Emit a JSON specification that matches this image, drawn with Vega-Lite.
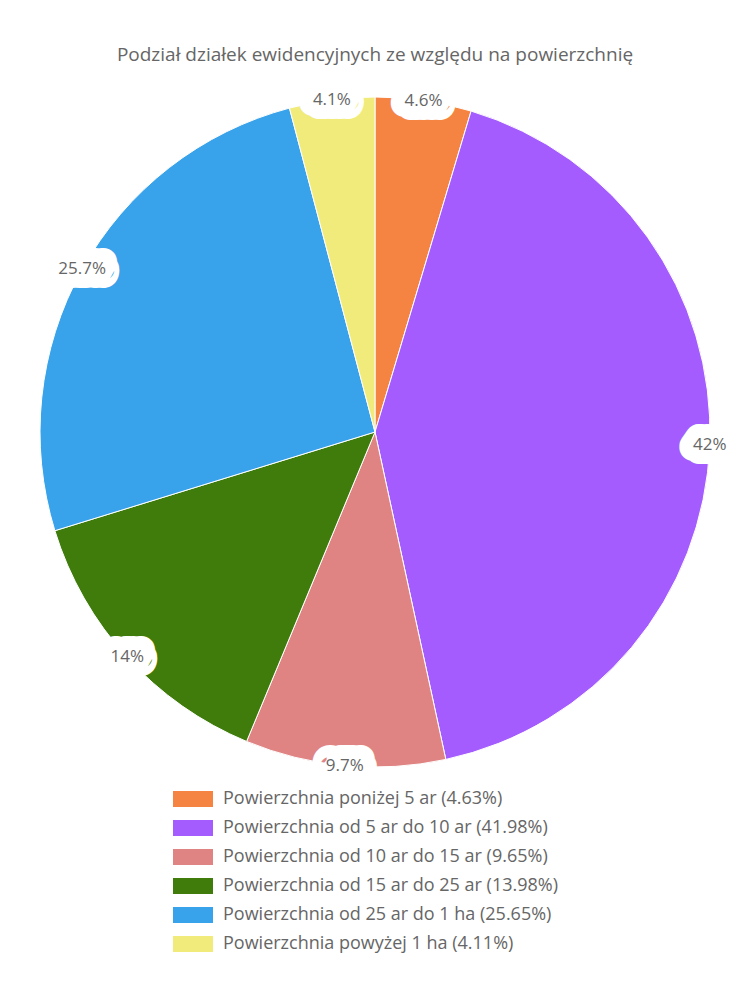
{
  "$schema": "https://vega.github.io/schema/vega-lite/v6.json",
  "autosize": {"type": "none"},
  "width": 670,
  "height": 670,
  "padding": {"top": 97, "bottom": 233, "left": 40, "right": 40},
  "background": "white",
  "title": {
    "text": "Podział działek ewidencyjnych ze względu na powierzchnię",
    "font": "Open Sans",
    "fontSize": 19,
    "fontWeight": "normal",
    "color": "#666666",
    "anchor": "middle",
    "frame": "group",
    "offset": 26
  },
  "data": {
    "values": [
      {"kategoria": "Powierzchnia poniżej 5 ar (4.63%)", "udzial": 4.63, "etykieta": "4.6%", "kolejnosc": 1},
      {"kategoria": "Powierzchnia od 5 ar do 10 ar (41.98%)", "udzial": 41.98, "etykieta": "42%", "kolejnosc": 2},
      {"kategoria": "Powierzchnia od 10 ar do 15 ar (9.65%)", "udzial": 9.65, "etykieta": "9.7%", "kolejnosc": 3},
      {"kategoria": "Powierzchnia od 15 ar do 25 ar (13.98%)", "udzial": 13.98, "etykieta": "14%", "kolejnosc": 4},
      {"kategoria": "Powierzchnia od 25 ar do 1 ha (25.65%)", "udzial": 25.65, "etykieta": "25.7%", "kolejnosc": 5},
      {"kategoria": "Powierzchnia powyżej 1 ha (4.11%)", "udzial": 4.11, "etykieta": "4.1%", "kolejnosc": 6}
    ]
  },
  "encoding": {
    "theta": {"field": "udzial", "type": "quantitative", "stack": true},
    "order": {"field": "kolejnosc", "type": "quantitative"}
  },
  "layer": [
    {
      "mark": {"type": "arc", "outerRadius": 335, "stroke": "white", "strokeWidth": 1},
      "encoding": {
        "color": {
          "field": "kategoria",
          "type": "nominal",
          "scale": {
            "domain": [
              "Powierzchnia poniżej 5 ar (4.63%)",
              "Powierzchnia od 5 ar do 10 ar (41.98%)",
              "Powierzchnia od 10 ar do 15 ar (9.65%)",
              "Powierzchnia od 15 ar do 25 ar (13.98%)",
              "Powierzchnia od 25 ar do 1 ha (25.65%)",
              "Powierzchnia powyżej 1 ha (4.11%)"
            ],
            "range": ["#F58442", "#A45CFF", "#E08383", "#3F7C0C", "#38A2EA", "#F0EB7B"]
          },
          "legend": {
            "title": null,
            "orient": "none",
            "legendX": 143,
            "legendY": 692,
            "direction": "vertical",
            "columns": 1,
            "labelFont": "Open Sans",
            "labelFontSize": 18,
            "labelColor": "#666666",
            "labelLimit": 500,
            "labelOffset": 20,
            "symbolType": "M-2,-0.8H2V0.8H-2Z",
            "symbolSize": 400,
            "symbolStrokeWidth": 0,
            "rowPadding": 10
          }
        }
      }
    },
    {
      "mark": {
        "type": "text",
        "radius": 335,
        "font": "Open Sans",
        "fontSize": 17,
        "fill": "white",
        "stroke": "white",
        "strokeWidth": 28,
        "strokeJoin": "round",
        "strokeCap": "round",
        "align": "center",
        "baseline": "middle"
      },
      "encoding": {"text": {"field": "etykieta", "type": "nominal"}}
    },
    {
      "mark": {
        "type": "text",
        "radius": 335,
        "font": "Open Sans",
        "fontSize": 17,
        "fill": "#666666",
        "align": "center",
        "baseline": "middle"
      },
      "encoding": {"text": {"field": "etykieta", "type": "nominal"}}
    }
  ]
}
